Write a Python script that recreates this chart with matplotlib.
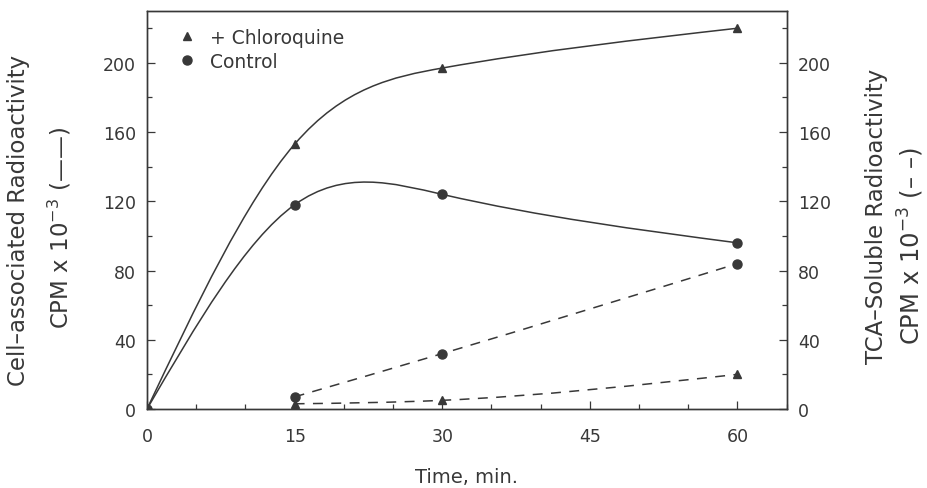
import numpy as np
import matplotlib
matplotlib.use("Agg")
import matplotlib.pyplot as plt
from matplotlib.path import Path
from matplotlib.patches import PathPatch
from matplotlib.lines import Line2D

# ---- data ----
time_cell = [0, 15, 30, 60]
cell_chloroquine = [0, 153, 197, 220]
cell_control = [0, 118, 124, 96]

time_tca = [15, 30, 60]
tca_control = [7, 32, 84]
tca_chloroquine = [3, 5, 20]

xticks = [0, 15, 30, 45, 60]
yticks = [0, 40, 80, 120, 160, 200]

INK = "#383838"
plt.rcParams['font.family'] = ['DejaVu Sans']


def spline_path(x, y):
    """Smooth Bezier path through the data points (natural cubic spline tangents)."""
    x = np.asarray(x, float)
    y = np.asarray(y, float)
    n = len(x)
    h = np.diff(x)
    A = np.zeros((n, n))
    b = np.zeros(n)
    A[0, 0] = 1
    A[-1, -1] = 1
    for i in range(1, n - 1):
        A[i, i - 1] = h[i - 1]
        A[i, i] = 2 * (h[i - 1] + h[i])
        A[i, i + 1] = h[i]
        b[i] = 6 * ((y[i + 1] - y[i]) / h[i] - (y[i] - y[i - 1]) / h[i - 1])
    M = np.linalg.solve(A, b)
    verts = [(x[0], y[0])]
    codes = [Path.MOVETO]
    for i in range(n - 1):
        d0 = (y[i + 1] - y[i]) / h[i] - h[i] * (2 * M[i] + M[i + 1]) / 6
        d1 = (y[i + 1] - y[i]) / h[i] + h[i] * (M[i] + 2 * M[i + 1]) / 6
        verts += [(x[i] + h[i] / 3, y[i] + d0 * h[i] / 3),
                  (x[i + 1] - h[i] / 3, y[i + 1] - d1 * h[i] / 3),
                  (x[i + 1], y[i + 1])]
        codes += [Path.CURVE4] * 3
    return Path(verts, codes)


fig = plt.figure(figsize=(9.27, 4.89), dpi=100)
ax = fig.add_axes([0.1586, 0.1616, 0.6900, 0.8140])
ax2 = ax.twinx()

for a in (ax, ax2):
    a.set_xlim(0, 65)
    a.set_ylim(0, 230)
    for s in a.spines.values():
        s.set_color(INK)
        s.set_linewidth(1.0)

# solid curves (cell-associated)
for yv in (cell_chloroquine, cell_control):
    ax.add_patch(PathPatch(spline_path(time_cell, yv), fill=False,
                           edgecolor=INK, lw=1.1))
ax.plot(time_cell, cell_chloroquine, ls='none', marker='^', ms=6, color=INK)
ax.plot(time_cell, cell_control, ls='none', marker='o', ms=6.5, color=INK)

# dashed curves (TCA-soluble)
for yv in (tca_control, tca_chloroquine):
    ax2.add_patch(PathPatch(spline_path(time_tca, yv), fill=False,
                            edgecolor=INK, lw=1.1, linestyle=(0, (6.5, 5.5))))
ax2.plot(time_tca, tca_chloroquine, ls='none', marker='^', ms=6, color=INK)
ax2.plot(time_tca, tca_control, ls='none', marker='o', ms=6.5, color=INK)

ax.set_xticks(xticks)
ax.set_xticks(np.arange(0, 66, 5), minor=True)
ax.set_yticks(yticks)
ax.set_yticks(np.arange(0, 221, 20), minor=True)
ax2.set_yticks(yticks)
ax2.set_yticks(np.arange(0, 221, 20), minor=True)

for a in (ax, ax2):
    a.tick_params(which='both', direction='in', colors=INK, labelcolor=INK,
                  labelsize=12.5, width=0.9)
    a.tick_params(which='major', length=6, pad=8)
    a.tick_params(which='minor', length=3.5)
ax.tick_params(axis='x', which='major', pad=13)

ax.set_xlabel("Time, min.", fontsize=14, color=INK, labelpad=16)

fig.text(0.020, 0.55, "Cell\u2013associated Radioactivity", rotation=90,
         ha='center', va='center', fontsize=16.5, color=INK)
fig.text(0.065, 0.534, "CPM x 10$^{-3}$ (\u2014\u2014)", rotation=90,
         ha='center', va='center', fontsize=16.5, color=INK)
fig.text(0.946, 0.558, "TCA\u2013Soluble Radioactivity", rotation=90,
         ha='center', va='center', fontsize=16.5, color=INK)
fig.text(0.983, 0.497, "CPM x 10$^{-3}$ (\u2013 \u2013)", rotation=90,
         ha='center', va='center', fontsize=17.5, color=INK)

handles = [Line2D([], [], ls='none', marker='^', ms=6, color=INK),
           Line2D([], [], ls='none', marker='o', ms=6.5, color=INK)]
leg = ax.legend(handles, ["+ Chloroquine", "Control"], loc='upper left',
                bbox_to_anchor=(0.045, 0.957), borderaxespad=0, borderpad=0,
                frameon=False, fontsize=13.5, handletextpad=0.6,
                labelspacing=0.25, handlelength=1.2)
for t in leg.get_texts():
    t.set_color(INK)

fig.savefig("out.png", dpi=100)
